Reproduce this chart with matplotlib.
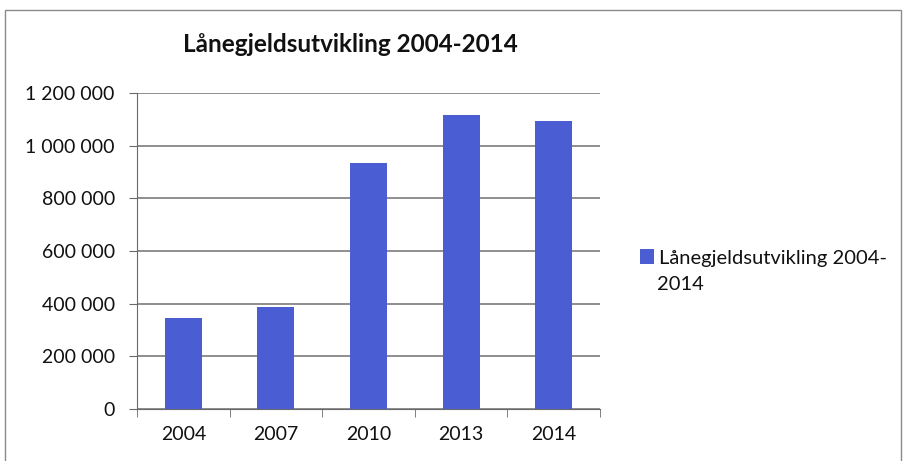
import matplotlib
matplotlib.use("Agg")
import matplotlib.pyplot as plt
from matplotlib.patches import Rectangle
from matplotlib.ticker import FuncFormatter, FixedLocator

plt.rcParams["font.family"] = ["Lato", "DejaVu Sans"]

years = ["2004", "2007", "2010", "2013", "2014"]
debt = [344000, 388000, 933000, 1117000, 1094000]
series_line1 = "Lånegjeldsutvikling 2004-"
series_line2 = "2014"
title = "Lånegjeldsutvikling 2004-2014"

W, H = 905, 461
fig = plt.figure(figsize=(W / 100, H / 100), dpi=100)
fig.patches.append(Rectangle((5 / W, -0.02), 0.996 - 5 / W, 1 - 10 / H + 0.02,
                             transform=fig.transFigure, fill=False,
                             edgecolor="#8a8a8a", lw=1.0))

ax = fig.add_axes([137 / W, 1 - 409 / H, (600 - 137) / W, (409 - 93) / H])
x = range(len(years))
ax.bar(x, debt, width=0.4, color="#4a5dd3", label=series_line1, zorder=3)

ax.set_xlim(-0.5, len(years) - 0.5)
ax.set_ylim(0, 1200000)
ax.set_yticks(range(0, 1200001, 200000))
ax.yaxis.set_major_formatter(FuncFormatter(lambda v, p: f"{int(v):,}".replace(",", " ")))
ax.grid(axis="y", color="#707070", lw=1.1, zorder=0)
ax.set_xticks(list(x))
ax.set_xticklabels(years)
ax.xaxis.set_minor_locator(FixedLocator([i - 0.5 for i in range(len(years) + 1)]))
ax.tick_params(axis="x", which="major", length=0, pad=12, labelsize=14)
ax.tick_params(axis="x", which="minor", length=6, color="#6a6a6a", direction="out")
ax.tick_params(axis="y", length=6, color="#6a6a6a", labelsize=14, pad=10)
for lab in ax.get_xticklabels() + ax.get_yticklabels():
    lab.set_color("#111111")
for s in ["top", "right"]:
    ax.spines[s].set_visible(False)
for s in ["left", "bottom"]:
    ax.spines[s].set_color("#6a6a6a")

fig.text(350 / W, 1 - 44 / H, title, ha="center", va="center",
         fontsize=17.5, fontweight="bold", color="#111111")

# legend holds the first line; the wrapped second line sits under it
leg = ax.legend(loc="center left", bbox_to_anchor=(622 / W, 1 - 258 / H),
                bbox_transform=fig.transFigure, frameon=False, fontsize=14.5,
                handlelength=0.7, handleheight=0.7, handletextpad=0.25)
for t in leg.get_texts():
    t.set_color("#111111")
fig.text(657 / W, 1 - 285 / H, series_line2, ha="left", va="center",
         fontsize=14.5, color="#111111")

fig.savefig("out.png", dpi=100)
